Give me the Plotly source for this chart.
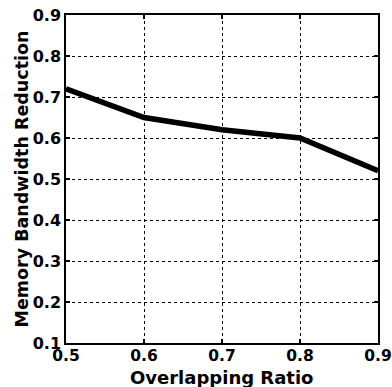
import plotly.graph_objects as go

overlap_ratio = [0.5, 0.6, 0.7, 0.8, 0.9]
bandwidth_reduction = [0.72, 0.65, 0.62, 0.60, 0.52]
x_ticks = [0.5, 0.6, 0.7, 0.8, 0.9]
y_ticks = [0.1, 0.2, 0.3, 0.4, 0.5, 0.6, 0.7, 0.8, 0.9]

fig = go.Figure()
fig.add_trace(go.Scatter(x=overlap_ratio, y=bandwidth_reduction, mode="lines",
                         line=dict(color="black", width=5.5), showlegend=False))

fam = "DejaVu Sans, sans-serif"
font = dict(family=fam, size=16, color="black")
axis_common = dict(showline=True, linecolor="black", linewidth=1.5, mirror="ticks",
                   ticks="inside", ticklen=4, tickcolor="black", tickwidth=1.5,
                   showgrid=True, gridcolor="black", griddash="dot", gridwidth=1.2,
                   zeroline=False, ticklabeloverflow="allow")

fig.update_layout(
    width=392, height=387,
    margin=dict(l=66, r=14, t=15, b=44),
    plot_bgcolor="white", paper_bgcolor="white",
    font=font,
    xaxis=dict(range=[0.5, 0.9], tickvals=x_ticks, ticktext=[f"<b>{v:.1f}</b>" for v in x_ticks],
               tickfont=dict(family=fam, size=15.5, color="black"), ticklabelstandoff=-2,
               automargin=False, **axis_common),
    yaxis=dict(range=[0.1, 0.9], tickvals=y_ticks, ticktext=[f"<b>{v:.1f}</b>" for v in y_ticks],
               tickfont=dict(family=fam, size=16, color="black"),
               title=dict(text="<b>Memory Bandwidth Reduction</b>", standoff=0, font=dict(family=fam, size=17.5)),
               automargin=False, **axis_common),
    annotations=[dict(text="<b>Overlapping Ratio</b>", xref="paper", yref="paper", x=0.5, y=0,
                      xanchor="center", yanchor="top", yshift=-23, showarrow=False,
                      borderpad=0, font=dict(family=fam, size=18, color="black"))],
)
fig.write_html("out.html", post_script="document.body.style.margin='0';",
               config={"displayModeBar": False})
